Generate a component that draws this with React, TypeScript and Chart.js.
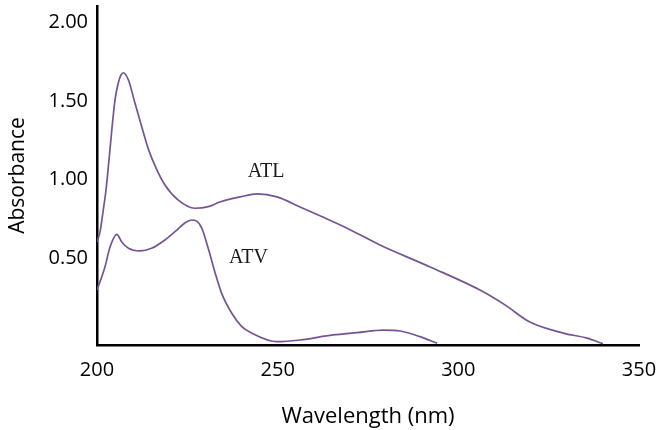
import React, { useEffect, useRef } from "react";
import { Chart, registerables } from "chart.js";

Chart.register(...registerables);

// Wavelength (nm) and absorbance readings
const atlWavelength = [200, 200.83, 201.66, 202.49, 203.32, 204.15, 204.98, 205.81, 206.64, 207.3, 208.7, 210.5, 212.4, 214.2, 216.1, 218.8, 222.5, 227.1, 230.8, 234.0, 239.6, 244.3, 249.8, 256.2, 262.5, 269.2, 278.3, 292.2, 306.0, 313.0, 319.8, 329.0, 335.6, 340.0];
const atlAbsorbance = [0.602, 0.666, 0.793, 0.933, 1.124, 1.328, 1.506, 1.608, 1.666, 1.68, 1.634, 1.487, 1.334, 1.195, 1.085, 0.965, 0.869, 0.817, 0.827, 0.857, 0.889, 0.908, 0.889, 0.825, 0.761, 0.69, 0.583, 0.443, 0.296, 0.2, 0.092, 0.022, -0.01, -0.045];

const atvWavelength = [200, 202.2, 203.6, 205.5, 206.8, 208.7, 211.9, 215.1, 218.8, 222.1, 224.4, 226.2, 227.6, 229.0, 230.8, 232.7, 234.5, 237.3, 240.0, 242.8, 249.8, 256.2, 265.3, 272.0, 279.2, 283.9, 289.4, 294.1];
const atvAbsorbance = [0.296, 0.443, 0.57, 0.651, 0.604, 0.562, 0.545, 0.562, 0.615, 0.678, 0.725, 0.742, 0.735, 0.69, 0.56, 0.405, 0.275, 0.148, 0.065, 0.022, -0.033, -0.022, 0.01, 0.025, 0.041, 0.035, -0.001, -0.043];

const xTicks = [200, 250, 300, 350];
const yTicks = [0.5, 1.0, 1.5, 2.0];

const seriesLabels = ["ATL", "ATV"];
const labelWavelength = [246.8, 241.9];
const labelAbsorbance = [1.051, 0.503];

const LINE = "#735596";

const labelPlugin = {
  id: "curveLabels",
  afterDatasetsDraw(chart: any) {
    const { ctx, scales } = chart;
    ctx.save();
    ctx.font = '20px "Liberation Serif"';
    ctx.fillStyle = "#1a1a1a";
    ctx.textAlign = "center";
    ctx.textBaseline = "middle";
    seriesLabels.forEach((t, i) => {
      ctx.fillText(t, scales.x.getPixelForValue(labelWavelength[i]), scales.y.getPixelForValue(labelAbsorbance[i]));
    });
    ctx.restore();
  },
};

export default function App() {
  const ref = useRef<HTMLCanvasElement | null>(null);
  useEffect(() => {
    if (!ref.current) return;
    const mk = (xs: number[], ys: number[], label: string) => ({
      label,
      data: xs.map((x, i) => ({ x, y: ys[i] })),
      borderColor: LINE,
      borderWidth: 1.7,
      pointRadius: 0,
      tension: 0.4,
      cubicInterpolationMode: "monotone" as const,
      fill: false,
    });
    const chart = new Chart(ref.current, {
      type: "line",
      data: {
        datasets: [mk(atlWavelength, atlAbsorbance, "ATL"), mk(atvWavelength, atvAbsorbance, "ATV")],
      },
      options: {
        animation: false,
        responsive: false,
        layout: { padding: { top: 6, right: 17, left: 0, bottom: 0 } },
        plugins: { legend: { display: false }, tooltip: { enabled: false } },
        scales: {
          x: {
            type: "linear",
            min: 200,
            max: 350,
            afterBuildTicks: (s: any) => {
              s.ticks = xTicks.map((v) => ({ value: v }));
            },
            afterFit: (s: any) => {
              s.height = 85;
              s.paddingLeft = 0;
              s.paddingRight = 0;
            },
            grid: { display: false },
            border: { display: true, color: "#000", width: 2.5 },
            ticks: {
              padding: 5,
              color: "#000",
              font: { family: '"Open Sans"', size: 20 },
              callback: (v: any) => String(v),
              maxRotation: 0,
            },
            title: {
              display: true,
              text: "Wavelength (nm)",
              color: "#000",
              font: { family: '"Open Sans"', size: 22 },
              padding: { top: 0, bottom: 0 },
            },
          },
          y: {
            type: "linear",
            min: -0.054,
            max: 2.105,
            afterBuildTicks: (s: any) => {
              s.ticks = yTicks.map((v) => ({ value: v }));
            },
            afterFit: (s: any) => {
              s.width = 97;
              s.paddingTop = 0;
              s.paddingBottom = 0;
            },
            grid: { display: false },
            border: { display: true, color: "#000", width: 2.5 },
            ticks: {
              padding: 1,
              color: "#000",
              font: { family: '"Open Sans"', size: 20 },
              callback: (v: any) => Number(v).toFixed(2),
            },
            title: {
              display: true,
              text: "Absorbance",
              color: "#000",
              font: { family: '"Open Sans"', size: 21 },
              padding: { top: 5, bottom: 0 },
            },
          },
        },
      },
      plugins: [labelPlugin],
    });
    return () => chart.destroy();
  }, []);
  return (
    <div style={{ position: "fixed", left: 0, top: 0, width: 656, height: 430, background: "#fff" }}>
      <canvas ref={ref} width={656} height={430} style={{ display: "block" }} />
    </div>
  );
}
